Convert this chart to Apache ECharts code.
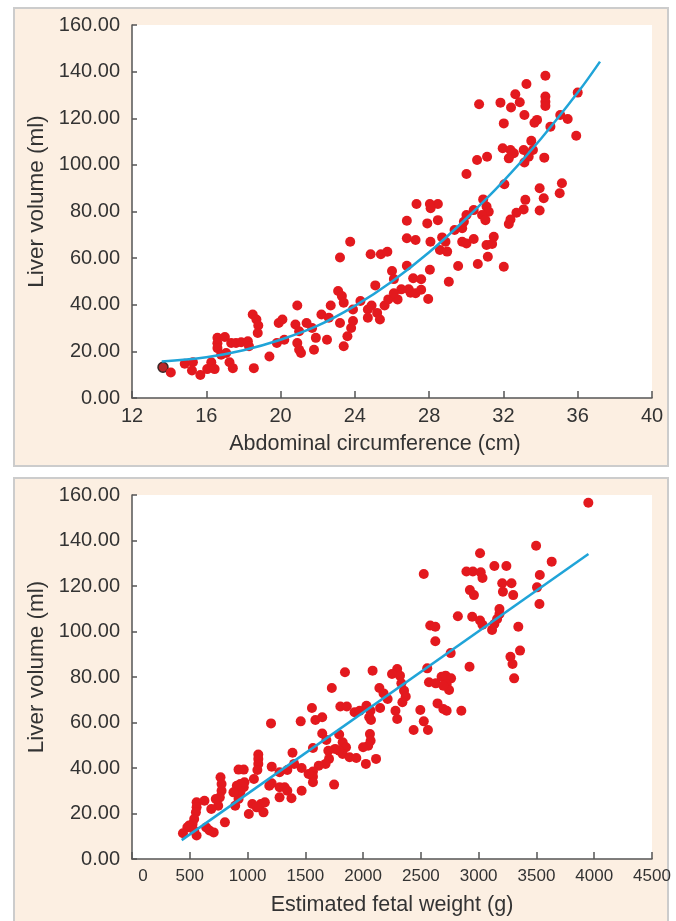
<!DOCTYPE html>
<html>
<head>
<meta charset="utf-8">
<title>Liver volume</title>
<script src="https://cdn.jsdelivr.net/npm/echarts@6/dist/echarts.min.js"></script>
<style>
  html, body { margin: 0; padding: 0; background: #fff; }
  #chart { width: 676px; height: 921px; }
</style>
</head>
<body>
<div id="chart"></div>
<script>
// 上图：腹围 vs 肝体积
var acPoints = [
  [13.67,13.2],[14.09,10.9],[14.84,14.7],[15.28,15.3],[15.23,11.8],[15.68,9.9],[16.05,12.4],[16.27,15.3],
  [16.45,12.4],[16.6,25.8],[16.6,23.5],[17.0,26.2],[16.6,21.4],[16.8,18.6],[17.07,19.3],[17.25,15.3],
  [17.43,12.8],[17.34,23.6],[17.6,23.6],[17.88,23.9],[18.24,24.3],[18.3,22.2],[18.5,35.8],[18.7,33.7],
  [18.8,31.1],[18.77,27.9],[18.56,12.8],[19.4,17.8],[19.8,23.6],[19.9,32.2],[20.1,33.7],[20.2,25],
  [20.9,39.7],[20.8,31.5],[21.0,28.6],[20.9,23.6],[21.0,20.7],[21.1,19.3],[21.4,32.2],[21.7,30],
  [21.9,25.8],[21.8,20.7],[22.2,35.8],[22.6,34.4],[22.7,39.7],[22.5,25],[23.2,60.3],[23.2,32.2],
  [23.1,45.9],[23.3,43.7],[23.4,40.9],[23.4,22.2],[23.6,26.5],[23.8,30],[23.9,33],[23.75,67],
  [23.9,38],[24.3,41.6],[24.85,61.7],[25.4,61.7],[25.75,62.7],[24.7,38],[24.7,34.4],[24.9,39.7],
  [25.1,48.3],[25.2,36.5],[25.35,33.7],[25.6,39.7],[25.8,42.3],[26.0,54.5],[26.1,51],[26.3,42.3],
  [26.5,46.6],[26.8,76],[26.8,68.5],[26.8,56.7],[26.9,46.6],[26.1,44.9],[27.0,45.2],[27.27,44.9],
  [27.57,46.4],[27.95,42.5],[27.14,51.4],[27.57,50.9],[29.06,49.9],[28.04,55.0],
  [34.26,138.2],[33.24,134.7],[32.64,130.3],[32.88,126.9],[32.41,124.6],[31.84,126.7],[30.69,126.0],
  [34.26,129.3],[34.26,127.1],[34.26,125.3],[33.13,121.4],[36.0,131.0],[33.81,119.3],[33.67,118.1],
  [32.02,117.8],[35.06,121.4],[35.46,119.7],[34.53,116.4],[35.92,112.5],[33.5,110.3],[31.96,107.1],
  [32.38,106.4],[32.56,105],[32.29,102.8],[33.09,106.4],[33.59,106.4],[33.36,103.5],[33.13,101],
  [34.2,103.1],[31.12,103.5],[30.58,102.1],[30.01,96.1],[32.05,91.7],[35.15,92.1],[35.03,87.8],
  [33.95,90],[34.17,85.7],[33.18,85],[33.09,80.9],[32.7,79.5],[32.38,76.6],[32.29,74.6],[33.95,80.4],
  [30.91,85.2],[31.09,82.1],[31.21,79.9],[30.85,78.5],[31.03,76.3],[30.4,80.6],[30.01,78.5],[29.87,75.6],
  [29.78,72.8],[29.37,72.1],[28.47,83.2],[28.04,83.2],[28.08,81.4],[27.32,83.2],[27.9,74.9],[28.47,76.3],
  [28.07,67],[27.27,67.8],[28.7,68.9],[28.88,67],[28.58,63.5],[28.97,62.8],[29.78,67],[30.01,66.3],
  [30.4,68.2],[31.09,65.6],[31.48,69.2],[31.39,66.1],[31.16,60.6],[30.62,57.5],[29.56,56.6],[32.02,56.3]
];
// 拟合曲线
var acCurve = [
  [13.6,15.7],[16,17.5],[18,20.5],[20,25],[22,31],[24,39.5],[26,50],[28,62.5],
  [30,77],[32,93],[34,111],[36,131],[37.2,144.3]
];

// 下图：估计胎儿体重 vs 肝体积
var efwPoints = [
  [3949,156.6],[3497,137.7],[3012,134.4],[3632,130.7],[3136,128.8],[3240,128.8],[2525,125.3],[2894,126.4],
  [2950,126.4],[3018,126],[3033,123.5],[3529,124.8],[3204,121.2],[3284,121.2],[3210,117.5],[3299,116],
  [2924,118.2],[2959,116],[3505,119.4],[3526,112.1],[2820,106.7],[2944,106.5],[3012,104.8],[3033,103],
  [3116,100.7],[3136,103.3],[3160,105.5],[3180,107.7],[3180,109.9],[3343,102.1],[2581,102.6],[2625,102.1],
  [2625,95.7],[2758,90.5],[3358,91.6],[3275,88.9],[3293,85.7],[3307,79.4],[2921,84.5],[2555,83.8],
  [2570,77.7],[2629,77.2],[2679,80.1],[2714,80.6],[2761,79.4],[2723,76.9],[2744,74.3],[2694,76.2],
  [2644,68.4],[2694,65.9],[2723,65.2],[2850,65.2],[2495,65.5],[2525,60.5],[2561,56.7],[2437,56.7],
  [2295,83.5],[2319,80.6],[2250,81.3],[2331,77.2],[2354,74],[2369,71.4],[2340,68.9],[2141,75.2],
  [2177,72.8],[2212,70.3],[2147,66.4],[2082,82.8],[1843,82.1],[1729,75.2],[1803,67],[1859,67],
  [1926,64.5],[1970,65.2],[2029,67.4],[2064,65.2],[2053,62.3],[2068,61.1],[2280,65.2],[2295,61.5],
  [2059,54.9],[2065,52],[2044,49.8],[2000,49.1],[2112,44],[2024,41.8],[1557,66.4],[1587,61.1],
  [1646,62.3],[1460,60.5],[1203,59.6],[1646,55.2],[1682,52.3],[1793,54.7],[1823,51.3],[1852,49.1],
  [1823,46.2],[1883,44.7],[1941,44.4],[1793,47.6],[1758,48.4],[1699,47.6],[1705,44],[1675,41.8],
  [1616,41],[1566,48.8],[1566,38.5],[1566,36.2],[1566,33.7],[1528,37.4],[1468,40],[1403,41.8],
  [1389,46.7],[1344,39.1],[1209,40.6],[1209,33.3],[1188,32.2],[1277,38.1],[1277,31.5],[1321,31.5],
  [1344,30],[1277,27.1],[1380,26.7],[1468,30],[1749,32.7],[1093,45.9],[1093,44],[1093,41.8],
  [1085,39.1],[1055,35.2],[922,39.3],[967,39.3],[937,33],[967,31.5],[937,29.3],[922,26.4],
  [893,23.4],[907,32.2],[973,33.7],[1041,24.2],[1011,19.8],[1115,24.2],[1150,24.9],[1138,20.5],
  [1079,22.7],[766,35.9],[775,33],[775,30],[760,27.1],[746,23.4],[725,26.4],[686,22],
  [627,25.6],[559,24.9],[559,22.7],[553,20.5],[538,17.6],[524,15.4],[494,14.7],[479,13.9],
  [441,11.3],[538,12.5],[559,10.3],[642,13.9],[671,12.5],[707,11.7],[804,16.1],[878,29.3]
];
var efwLine = [[430,8.3],[3950,134.1]];

var yTicks = { min: 0, max: 160, interval: 20 };

var dotColor = '#e3191e';
var lineColor = '#20a4d8';
var axisColor = '#555555';
var labelColor = '#333333';
var fontFamily = '"Liberation Sans", Arial, Helvetica, sans-serif';

function yAxisOpt(gridIndex) {
    return {
        gridIndex: gridIndex,
        type: 'value',
        min: yTicks.min,
        max: yTicks.max,
        interval: yTicks.interval,
        name: 'Liver volume (ml)',
        nameLocation: 'middle',
        nameGap: 80,
        nameTextStyle: { fontFamily: fontFamily, fontSize: 22.5, color: labelColor, padding: [0, 0, 0, 20] },
        axisLine: { show: true, lineStyle: { color: axisColor, width: 1.5 } },
        axisTick: { show: true, inside: true, length: 5, lineStyle: { color: axisColor, width: 1.5 } },
        axisLabel: {
            margin: 12,
            fontFamily: fontFamily,
            fontSize: 20,
            color: labelColor,
            formatter: function (v) { return v.toFixed(2); }
        },
        splitLine: { show: false }
    };
}

var chart = echarts.init(document.getElementById('chart'));

chart.setOption({
    animation: false,
    backgroundColor: '#ffffff',
    graphic: [{
        type: 'rect',
        z: -10,
        shape: { x: 14, y: 8, width: 654, height: 458 },
        style: { fill: '#fcefe2', stroke: '#cccccc', lineWidth: 2 }
    }, {
        type: 'rect',
        z: -10,
        shape: { x: 14, y: 478, width: 654, height: 460 },
        style: { fill: '#fcefe2', stroke: '#cccccc', lineWidth: 2 }
    }],
    grid: [{
        left: 132, top: 25, width: 520, height: 373,
        show: true, backgroundColor: '#ffffff', borderWidth: 0
    }, {
        left: 132, top: 495, width: 520, height: 364,
        show: true, backgroundColor: '#ffffff', borderWidth: 0
    }],
    xAxis: [{
        gridIndex: 0,
        type: 'value',
        min: 12,
        max: 40,
        interval: 4,
        name: 'Abdominal circumference (cm)',
        nameLocation: 'middle',
        nameGap: 35,
        nameTextStyle: { fontFamily: fontFamily, fontSize: 21.5, color: labelColor, padding: [0, 34, 0, 0] },
        axisLine: { show: true, lineStyle: { color: axisColor, width: 1.5 } },
        axisTick: { show: true, inside: true, length: 7, lineStyle: { color: axisColor, width: 1.5 } },
        axisLabel: { margin: 8, fontFamily: fontFamily, fontSize: 20, color: labelColor },
        splitLine: { show: false }
    }, {
        gridIndex: 1,
        type: 'value',
        min: 0,
        max: 4500,
        interval: 500,
        name: 'Estimated fetal weight (g)',
        nameLocation: 'middle',
        nameGap: 35,
        nameTextStyle: { fontFamily: fontFamily, fontSize: 21.5, color: labelColor },
        axisLine: { show: true, lineStyle: { color: axisColor, width: 1.5 } },
        axisTick: { show: true, inside: true, length: 7, lineStyle: { color: axisColor, width: 1.5 } },
        axisLabel: {
            margin: 9,
            fontFamily: fontFamily,
            fontSize: 17,
            color: labelColor,
            formatter: function (v) { return v === 0 ? '{z|0}' : String(v); },
            rich: { z: { fontFamily: fontFamily, fontSize: 17, color: labelColor, padding: [0, 0, 0, 22] } }
        },
        splitLine: { show: false }
    }],
    yAxis: [yAxisOpt(0), yAxisOpt(1)],
    series: [{
        type: 'scatter',
        xAxisIndex: 0,
        yAxisIndex: 0,
        symbolSize: 10,
        itemStyle: { color: dotColor, opacity: 1 },
        data: acPoints.map(function (p, i) {
            // 第一个点带深色描边
            return i === 0 ? { value: p, itemStyle: { color: '#b8262a', borderColor: '#3a2626', borderWidth: 1.5 } } : p;
        })
    }, {
        type: 'line',
        xAxisIndex: 0,
        yAxisIndex: 0,
        smooth: 0.4,
        showSymbol: false,
        lineStyle: { color: lineColor, width: 2.5 },
        data: acCurve
    }, {
        type: 'scatter',
        xAxisIndex: 1,
        yAxisIndex: 1,
        symbolSize: 10,
        itemStyle: { color: dotColor, opacity: 1 },
        data: efwPoints
    }, {
        type: 'line',
        xAxisIndex: 1,
        yAxisIndex: 1,
        showSymbol: false,
        lineStyle: { color: lineColor, width: 2.5 },
        data: efwLine
    }]
});
</script>
</body>
</html>
